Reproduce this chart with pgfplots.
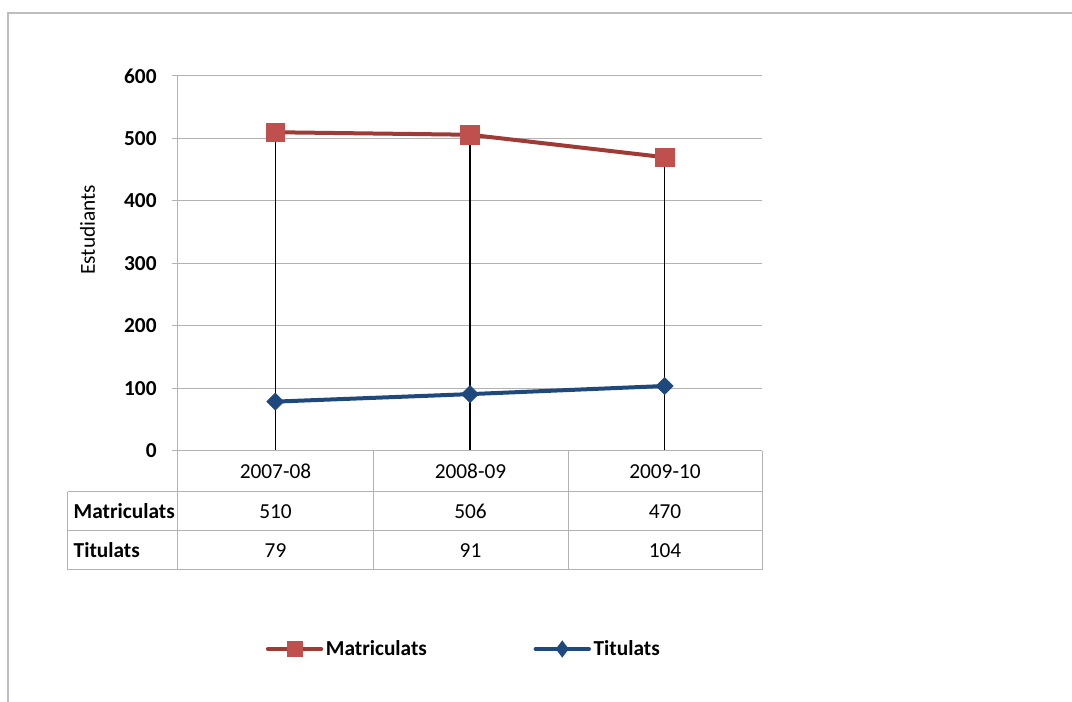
\documentclass[border=0pt]{standalone}
\usepackage{pgfplots}
\pgfplotsset{compat=1.18}
\usepackage{fontspec}
\setmainfont{Carlito}
\definecolor{matline}{RGB}{160,58,54}
\definecolor{matfill}{RGB}{192,80,77}
\definecolor{titline}{RGB}{31,73,125}
\definecolor{gridgray}{RGB}{178,178,178}
\definecolor{framegray}{RGB}{190,190,190}
\begin{document}
\begin{tikzpicture}[x=0.75pt,y=0.75pt,font=\fontsize{16}{19}\selectfont]
  % page coordinates in pixels, shifted so that the axis box starts at (0,0)
  \begin{scope}[shift={(-178,-251)}]
    \useasboundingbox (0,0) rectangle (1072,702);
    \draw[framegray,line width=1.5pt] (8,0) -- (8,689) -- (1072,689);
  \end{scope}

  \begin{axis}[
      scale only axis,
      width=438pt, height=281.25pt,
      xmin=0, xmax=3,
      ymin=0, ymax=600,
      ytick={0,100,...,600},
      xtick=\empty,
      axis x line=none,
      axis y line=left,
      axis line style={-, gridgray, line width=0.75pt},
      ymajorgrids,
      grid style={gridgray, line width=0.75pt},
      tick align=outside,
      major tick length=4.5pt,
      tick style={gridgray, line width=0.75pt},
      yticklabel style={font=\fontsize{16}{19}\selectfont\bfseries, xshift=-8pt},
      /pgf/number format/assume math mode=true,
      ylabel={Estudiants},
      ylabel style={font=\fontsize{16}{19}\selectfont},
      every axis y label/.style={at={(axis description cs:-0.155,0.59)}, rotate=90, anchor=center},
      clip=false,
      legend style={
        at={(axis description cs:0.490,-0.528)}, anchor=center,
        draw=none, fill=none,
        legend columns=2,
        font=\fontsize{16}{19}\selectfont\bfseries,
        /tikz/every even column/.append style={column sep=78pt},
        /tikz/every odd column/.append style={inner xsep=1pt},
      },
      legend cell align=left,
    ]
    \addplot[matline, line width=3pt, mark=square*,
      mark options={fill=matfill, draw=matfill, line width=0.5pt}, mark size=7pt,
      legend image code/.code={
        \draw[matline, line width=3pt, line cap=round] (0pt,0pt) -- (40pt,0pt);
        \fill[matfill] (15.5pt,-4.5pt) rectangle (24.5pt,4.5pt);
      }]
      coordinates {(0.5,510) (1.5,506) (2.5,470)};
    \addlegendentry{Matriculats}
    \addplot[titline, line width=3pt, mark=square*,
      mark options={fill=titline, draw=titline, line width=0.5pt, rotate=45}, mark size=4.5pt,
      legend image code/.code={
        \draw[titline, line width=3pt, line cap=round] (0pt,0pt) -- (40pt,0pt);
        \fill[titline] (20pt,-4pt) -- (23pt,0pt) -- (20pt,4pt) -- (17pt,0pt) -- cycle;
      }]
      coordinates {(0.5,79) (1.5,91) (2.5,104)};
    \addlegendentry{Titulats}
    % drop lines
    \addplot[black, line width=0.9pt, ycomb, forget plot]
      coordinates {(0.5,510) (1.5,506) (2.5,470)};
  \end{axis}

  % data table
  \begin{scope}[shift={(-178,-251)}]
    \begin{scope}[draw=gridgray, line width=0.75pt]
      \draw (178,251) -- (762,251);
      \draw (68,210) -- (762,210);
      \draw (68,171) -- (762,171);
      \draw (68,132) -- (762,132);
      \draw (68,210) -- (68,132);
      \draw (178,251) -- (178,132);
      \draw (373,251) -- (373,132);
      \draw (568,251) -- (568,132);
      \draw (762,251) -- (762,132);
    \end{scope}
    \node at (275.5,230.5) {2007-08};
    \node at (470.5,230.5) {2008-09};
    \node at (665,230.5) {2009-10};
    \node[anchor=west,font=\fontsize{16}{19}\selectfont\bfseries] at (69,190.5) {Matriculats};
    \node[anchor=west,font=\fontsize{16}{19}\selectfont\bfseries] at (69,151.5) {Titulats};
    \node at (275.5,190.5) {510};
    \node at (470.5,190.5) {506};
    \node at (665,190.5) {470};
    \node at (275.5,151.5) {79};
    \node at (470.5,151.5) {91};
    \node at (665,151.5) {104};
  \end{scope}
\end{tikzpicture}
\end{document}
